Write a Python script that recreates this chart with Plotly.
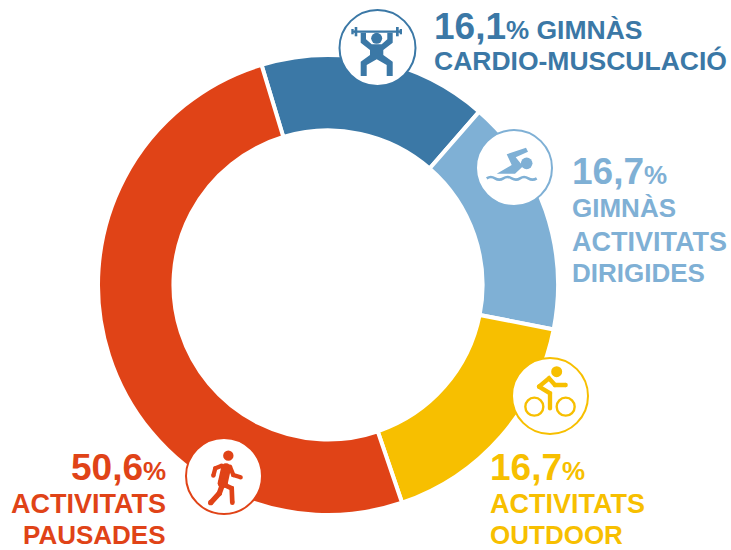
import plotly.graph_objects as go

W, H = 731, 550
categories = ["GIMNÀS CARDIO-MUSCULACIÓ", "GIMNÀS ACTIVITATS DIRIGIDES", "ACTIVITATS OUTDOOR", "ACTIVITATS PAUSADES"]
values = [16.1, 16.7, 16.7, 50.6]
value_labels = ["16,1", "16,7", "16,7", "50,6"]
colors = ["#3B78A6", "#7FB0D5", "#F7BF00", "#E04317"]
FONT = "Liberation Sans, Arial, sans-serif"

fig = go.Figure(go.Pie(
    labels=categories, values=values, sort=False, direction="clockwise", rotation=-16.8,
    hole=0.672, textinfo="none", hoverinfo="label+percent",
    marker=dict(colors=colors, line=dict(color="white", width=4)),
    domain=dict(x=[98/W, 558/W], y=[1-515/H, 1-55/H]), showlegend=False,
))

shapes = []
def disc(cx, cy, r, fill, line=None, lw=0):
    shapes.append(dict(type="circle", xref="x", yref="y", x0=cx-r, x1=cx+r, y0=cy-r, y1=cy+r,
                       fillcolor=fill, line=dict(color=line or fill, width=lw), layer="above"))
def poly(pts, color, ox, oy):
    d = "M" + " L".join(f"{ox+x/3:.1f},{oy+y/3:.1f}" for x, y in pts) + " Z"
    shapes.append(dict(type="path", xref="x", yref="y", path=d, fillcolor=color, line=dict(width=0), layer="above"))
def thick(pts, w, color, ox, oy):
    d = "M" + " L".join(f"{ox+x/3:.1f},{oy+y/3:.1f}" for x, y in pts)
    shapes.append(dict(type="path", xref="x", yref="y", path=d, line=dict(color=color, width=w/3), layer="above"))
    for x, y in pts:
        disc(ox+x/3, oy+y/3, w/6, color)

# icon badges
for (cx, cy), c in zip([(377.5, 48), (514, 168), (550, 396), (224, 476)], colors):
    disc(cx, cy, 38, "white", c, 2)

# weightlifter
c, ox, oy = colors[0], 330, 0
thick([(72, 95), (210, 95)], 7, c, ox, oy)
for xa, xb, h in [(64, 71, 8), (74, 82, 14), (198, 206, 14), (209, 216, 8)]:
    poly([(xa, 95-h), (xb, 95-h), (xb, 95+h), (xa, 95+h)], c, ox, oy)
disc(ox+140/3, 115/3, 5.5, c)
poly([(92, 98), (108, 98), (108, 118), (125, 133), (155, 133), (172, 118), (172, 98), (188, 98), (188, 128),
      (160, 150), (160, 165), (188, 185), (188, 228), (170, 228), (170, 195), (140, 178), (110, 195),
      (110, 228), (92, 228), (92, 185), (120, 165), (120, 150), (92, 128)], c, ox, oy)

# swimmer
c, ox, oy = colors[1], 465, 125
disc(ox+185/3, oy+115/3, 5.8, c)
poly([(125, 88), (183, 68), (189, 80), (152, 97), (174, 124), (150, 146), (95, 146), (140, 120)], c, ox, oy)
wave = "M{:.1f},{:.1f}".format(ox+65/3, oy+160/3)
for i in range(3):
    x = 65 + i*50
    wave += " Q{:.1f},{:.1f} {:.1f},{:.1f} T{:.1f},{:.1f}".format(
        ox+(x+12)/3, oy+152/3, ox+(x+25)/3, oy+160/3, ox+(x+50)/3, oy+160/3)
shapes.append(dict(type="path", xref="x", yref="y", path=wave, line=dict(color=c, width=2.6), layer="above"))

# cyclist
c, ox, oy = colors[2], 505, 350
for wx in (88, 182):
    shapes.append(dict(type="circle", xref="x", yref="y", x0=ox+(wx-27)/3, x1=ox+(wx+27)/3,
                       y0=oy+143/3, y1=oy+197/3, fillcolor="rgba(0,0,0,0)", line=dict(color=c, width=2.4), layer="above"))
disc(ox+155/3, oy+65/3, 5.5, c)
thick([(102, 110), (132, 85), (150, 105), (182, 105)], 13, c, ox, oy)
thick([(102, 110), (135, 130), (135, 175)], 13, c, ox, oy)

# walker
c, ox, oy = colors[3], 180, 435
disc(ox+145/3, oy+62/3, 5.2, c)
thick([(138, 100), (128, 145)], 30, c, ox, oy)
thick([(150, 95), (160, 120), (182, 127)], 13, c, ox, oy)
thick([(125, 92), (106, 100), (100, 122)], 13, c, ox, oy)
thick([(127, 150), (118, 175), (92, 203)], 16, c, ox, oy)
thick([(130, 148), (155, 160), (157, 203)], 14, c, ox, oy)

ann = []
def text(x, y, s, color, anchor="left", size=26):
    ann.append(dict(x=x, y=y, xref="x", yref="y", text=s, showarrow=False, xanchor=anchor, yanchor="middle",
                    font=dict(family=FONT, size=size, color=color), align=anchor))
def big(v, tail=""):
    return f'<b><span style="font-size:37px">{v}</span><span style="font-size:26px">%</span>{tail}</b>'

text(432, 26, big(value_labels[0], " GIMNÀS"), colors[0], size=26.5)
text(432, 61, "<b>CARDIO-MUSCULACIÓ</b>", colors[0], size=26.5)
text(570, 171, big(value_labels[1]), colors[1])
text(570, 208, "<b>GIMNÀS</b>", colors[1])
text(570, 242, "<b>ACTIVITATS</b>", colors[1], size=27)
text(570, 273, "<b>DIRIGIDES</b>", colors[1])
text(488, 467, big(value_labels[2]), colors[2])
text(488, 504, "<b>ACTIVITATS</b>", colors[2], size=27)
text(488, 535, "<b>OUTDOOR</b>", colors[2])
text(168, 467, big(value_labels[3]), colors[3], "right")
text(168, 504, "<b>ACTIVITATS</b>", colors[3], "right", size=27)
text(168, 535, "<b>PAUSADES</b>", colors[3], "right")

fig.update_layout(
    width=W, height=H, margin=dict(l=0, r=0, t=0, b=0), autosize=False,
    paper_bgcolor="white", plot_bgcolor="rgba(0,0,0,0)",
    xaxis=dict(range=[0, W], visible=False, fixedrange=True),
    yaxis=dict(range=[H, 0], visible=False, fixedrange=True),
    shapes=shapes, annotations=ann,
)
fig.write_html("out.html", config=dict(displayModeBar=False),
               post_script="document.body.style.margin='0';document.body.style.overflow='hidden';")
